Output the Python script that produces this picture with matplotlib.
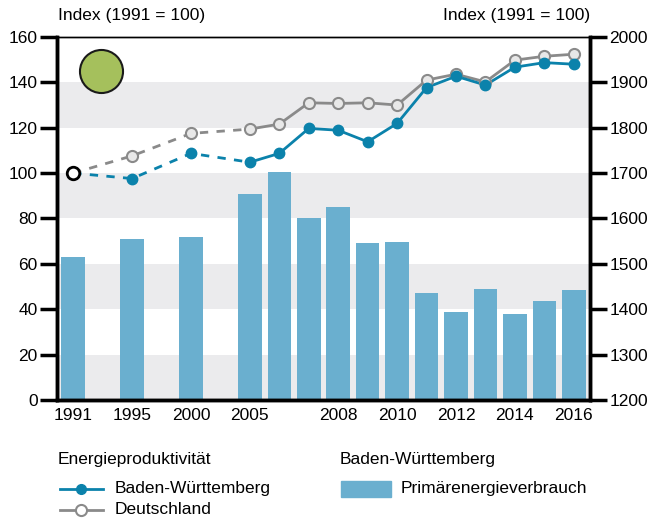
import matplotlib.pyplot as plt
from matplotlib.lines import Line2D
from matplotlib.patches import Rectangle

plt.rcParams['font.family'] = ['Liberation Sans Narrow', 'Liberation Sans', 'DejaVu Sans']

years = ['1991', '1995', '2000', '2005', '2006', '2007', '2008', '2009',
         '2010', '2011', '2012', '2013', '2014', '2015', '2016']
slots = [0, 2, 4, 6, 7, 8, 9, 10, 11, 12, 13, 14, 15, 16, 17]
shown = ['1991', '1995', '2000', '2005', '2008', '2010', '2012', '2014', '2016']

# Energieproduktivität, Index 1991 = 100
bw = [100, 97.6, 108.7, 104.8, 108.7, 119.7, 118.9, 113.8, 121.9,
      137.7, 142.7, 138.8, 146.7, 148.7, 148.0]
de = [100, 107.6, 117.5, 119.4, 121.6, 131.0, 130.7, 131.0, 130.0,
      141.0, 143.6, 140.2, 149.8, 151.5, 152.4]
# Primärenergieverbrauch (rechte Achse)
pev = [1515, 1555, 1560, 1655, 1702, 1602, 1625, 1545, 1548,
       1435, 1395, 1445, 1390, 1418, 1443]

c_bw = '#0b82ab'
c_de = '#8a8a8a'
c_bar = '#6aafcf'
c_band = '#ebebed'

fig = plt.figure(figsize=(6.65, 5.18), dpi=100)
ax = fig.add_axes([0.0857, 0.2278, 0.8015, 0.7008])
ax2 = ax.twinx()
ax.set_zorder(ax2.get_zorder() + 1)
ax.patch.set_visible(False)

for lo in (1200, 1400, 1600, 1800):
    ax2.axhspan(lo, lo + 100, color=c_band, lw=0, zorder=0)
ax2.bar(slots, [v - 1200 for v in pev], bottom=1200, width=0.8, color=c_bar, zorder=2)
ax2.set_ylim(1200, 2000)
ax2.set_yticks(range(1200, 2001, 100))

# dashed part (1991-2005), solid from 2005
ax.plot(slots[:4], de[:4], ls=(0, (3, 3)), color=c_de, lw=2, zorder=3)
ax.plot(slots[:4], bw[:4], ls=(0, (3, 3)), color=c_bw, lw=2, zorder=4)
ax.plot(slots[3:], de[3:], color=c_de, lw=2, zorder=3)
ax.plot(slots[3:], bw[3:], color=c_bw, lw=2, zorder=4)
ax.plot(slots[1:], de[1:], ls='none', marker='o', ms=8, mfc='#e8e8e8', mec=c_de, mew=1.5, zorder=5)
ax.plot(slots[1:], bw[1:], ls='none', marker='o', ms=7.5, mfc=c_bw, mec=c_bw, zorder=6)
ax.plot(slots[0], bw[0], ls='none', marker='o', ms=9, mfc='white', mec='black', mew=2, zorder=7)
ax.plot([0.95], [145], ls='none', marker='o', ms=31, mfc='#a5c05c', mec='#1a1a1a', mew=1.5, zorder=7)

ax.set_xlim(-0.55, 17.55)
ax.set_ylim(0, 160)
ax.set_yticks(range(0, 161, 20))
ax.set_xticks([slots[years.index(y)] for y in shown])
ax.set_xticklabels(shown)

for a in (ax, ax2):
    a.spines['top'].set_linewidth(1)
    a.spines['left'].set_linewidth(2.5)
    a.spines['right'].set_linewidth(2.5)
    a.spines['bottom'].set_linewidth(2.5)
    a.tick_params(axis='y', length=12, width=2.5, labelsize=12.5, pad=2)
    a.tick_params(axis='x', length=0, labelsize=12.5, pad=6)

fig.text(0.087, 0.955, 'Index (1991 = 100)', fontsize=12.5, ha='left', va='bottom')
fig.text(0.888, 0.955, 'Index (1991 = 100)', fontsize=12.5, ha='right', va='bottom')

# legend
fig.text(0.087, 0.112, 'Energieproduktivität', fontsize=12.5, va='center')
fig.text(0.511, 0.112, 'Baden-Württemberg', fontsize=12.5, va='center')
fig.add_artist(Line2D([0.09, 0.155], [0.056, 0.056], color=c_bw, lw=2))
fig.add_artist(Line2D([0.1225], [0.056], ls='none', marker='o', ms=7,
                      mfc=c_bw, mec=c_bw))
fig.add_artist(Line2D([0.09, 0.155], [0.016, 0.016], color=c_de, lw=2))
fig.add_artist(Line2D([0.1225], [0.016], ls='none', marker='o', ms=8,
                      mfc='white', mec=c_de, mew=1.5))
fig.text(0.172, 0.056, 'Baden-Württemberg', fontsize=12.5, va='center')
fig.text(0.172, 0.016, 'Deutschland', fontsize=12.5, va='center')
fig.add_artist(Rectangle((0.513, 0.04), 0.075, 0.031, color=c_bar, transform=fig.transFigure))
fig.text(0.603, 0.056, 'Primärenergieverbrauch', fontsize=12.5, va='center')

fig.savefig('out.png', dpi=100)
